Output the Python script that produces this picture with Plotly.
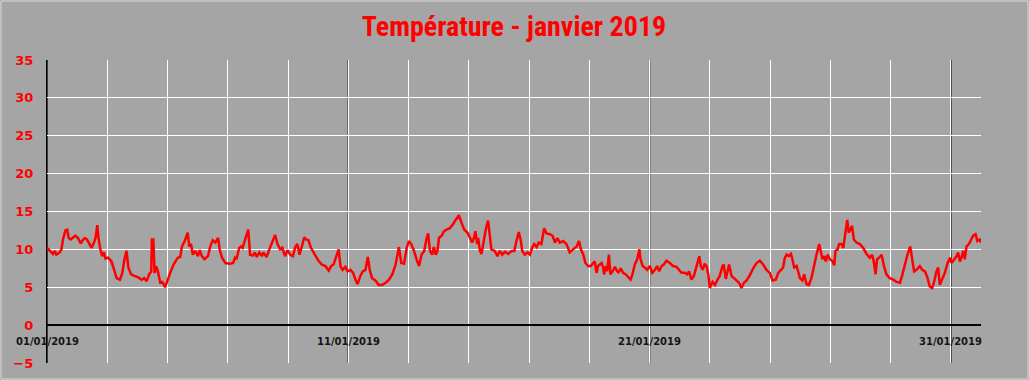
import pandas as pd
import plotly.graph_objects as go

# --- data (day offset from 01/01/2019 00:00, temperature °C) ---
day_offset = [
    0.00, 0.09, 0.20, 0.26, 0.31, 0.42, 0.48, 0.53, 0.61, 0.67, 0.72, 0.79, 0.87, 0.94,
    1.03, 1.12, 1.20, 1.26, 1.33, 1.42, 1.48, 1.56, 1.61, 1.67, 1.70, 1.76, 1.83, 1.89,
    1.94, 2.03, 2.14, 2.23, 2.31, 2.42, 2.50, 2.57, 2.64, 2.70, 2.79, 2.90, 3.03, 3.14,
    3.23, 3.31, 3.39, 3.46, 3.48, 3.53, 3.57, 3.62, 3.68, 3.76, 3.83, 3.92, 4.00, 4.09,
    4.20, 4.34, 4.42, 4.48, 4.57, 4.67, 4.72, 4.78, 4.84, 4.92, 5.01, 5.07, 5.14, 5.23,
    5.34, 5.42, 5.50, 5.59, 5.68, 5.73, 5.81, 5.92,
    6.07, 6.18, 6.24, 6.29, 6.38, 6.44, 6.49, 6.57, 6.68, 6.74, 6.83, 6.90, 6.96, 7.05,
    7.13, 7.18, 7.29, 7.38, 7.46, 7.57, 7.65, 7.74, 7.81, 7.90, 7.98, 8.07, 8.16, 8.24,
    8.31, 8.38, 8.46, 8.54, 8.60, 8.68, 8.76, 8.90, 9.01, 9.12, 9.24, 9.35, 9.43, 9.51,
    9.60, 9.68, 9.74, 9.81, 9.90, 9.98, 10.07, 10.16, 10.24, 10.31, 10.40, 10.48, 10.57,
    10.65, 10.71, 10.79, 10.90, 11.01, 11.12, 11.24, 11.35, 11.46, 11.57, 11.68, 11.76,
    11.85, 11.94, 12.01, 12.09, 12.18, 12.29,
    12.35, 12.43, 12.52, 12.60, 12.65, 12.71, 12.78, 12.84, 12.90, 12.96, 13.01, 13.10,
    13.18, 13.26, 13.37, 13.45, 13.54, 13.61, 13.67, 13.76, 13.85, 13.96, 14.04, 14.11,
    14.17, 14.22, 14.28, 14.31, 14.37, 14.42, 14.48, 14.56, 14.64, 14.70, 14.75, 14.86,
    14.95, 15.03, 15.11, 15.20, 15.31, 15.42, 15.51, 15.58, 15.66, 15.73, 15.77, 15.86,
    15.95, 16.03, 16.10, 16.17, 16.25, 16.32, 16.41, 16.50, 16.58, 16.69, 16.78, 16.86,
    16.94, 17.02, 17.13, 17.24, 17.35, 17.46, 17.58, 17.66, 17.72, 17.80, 17.87, 17.96,
    18.05, 18.13, 18.18, 18.24, 18.29,
    18.35, 18.41, 18.46, 18.49, 18.55, 18.59, 18.65, 18.70, 18.77, 18.85, 18.90, 18.96,
    19.04, 19.12, 19.21, 19.29, 19.37, 19.43, 19.51, 19.59, 19.66, 19.70, 19.77, 19.84,
    19.92, 20.01, 20.09, 20.18, 20.25, 20.32, 20.40, 20.47, 20.56, 20.67, 20.78, 20.89,
    20.98, 21.06, 21.17, 21.25, 21.31, 21.39, 21.47, 21.56, 21.65, 21.70, 21.76, 21.83,
    21.89, 21.95, 22.00, 22.09, 22.17, 22.24, 22.33, 22.42, 22.46, 22.53, 22.59, 22.64,
    22.72, 22.80, 22.89, 22.97, 23.05, 23.13, 23.22, 23.33, 23.44, 23.55, 23.66, 23.77,
    23.88, 23.99, 24.08, 24.19, 24.27, 24.35, 24.43,
    24.49, 24.55, 24.62, 24.69, 24.73, 24.80, 24.88, 24.93, 24.99, 25.07, 25.13, 25.21,
    25.29, 25.37, 25.46, 25.54, 25.63, 25.68, 25.74, 25.80, 25.85, 25.91, 25.98, 26.06,
    26.13, 26.17, 26.24, 26.29, 26.37, 26.43, 26.48, 26.56, 26.61, 26.67, 26.72, 26.78,
    26.87, 26.98, 27.09, 27.20, 27.31, 27.39, 27.45, 27.50, 27.55, 27.62, 27.70, 27.78,
    27.86, 27.97, 28.09, 28.20, 28.31, 28.38, 28.47, 28.56, 28.65, 28.72, 28.78, 28.86,
    28.97, 29.05, 29.14, 29.22, 29.30, 29.38, 29.45, 29.52, 29.58, 29.63, 29.71, 29.80,
    29.89, 29.97, 30.02, 30.11, 30.19, 30.24, 30.30, 30.35, 30.41, 30.46, 30.52, 30.60,
    30.66, 30.74, 30.82, 30.88, 30.96, 31.00,
]
temperature = [
    10.2, 9.8, 9.4, 9.8, 9.3, 9.6, 10.0, 11.3, 12.5, 12.6, 11.5, 11.3, 11.6, 11.8,
    11.5, 10.8, 11.3, 11.5, 11.3, 10.7, 10.2, 10.9, 11.5, 13.2, 11.8, 10.2, 9.1, 9.6,
    8.8, 8.9, 8.4, 7.3, 6.2, 6.0, 6.9, 8.7, 9.8, 7.6, 6.7, 6.5, 6.3, 6.0,
    6.2, 5.8, 6.7, 7.1, 11.3, 11.3, 6.9, 7.8, 7.1, 5.6, 5.7, 5.0, 6.0, 6.9,
    8.0, 8.9, 9.0, 10.4, 11.1, 12.2, 10.4, 10.7, 9.3, 9.8, 9.1, 9.9, 9.1, 8.7,
    9.1, 10.4, 11.2, 10.9, 11.5, 10.0, 8.9, 8.2,
    8.1, 8.2, 8.9, 8.7, 10.2, 10.4, 10.2, 11.2, 12.6, 9.3, 9.2, 9.6, 9.0, 9.6,
    9.1, 9.6, 9.0, 10.0, 10.9, 11.9, 10.7, 10.0, 10.2, 9.1, 9.9, 9.3, 9.1, 10.3,
    10.7, 9.3, 10.4, 11.6, 11.3, 11.2, 10.2, 9.3, 8.5, 8.0, 7.8, 7.2, 7.8, 8.0,
    9.0, 10.0, 7.8, 7.3, 7.7, 7.1, 7.3, 6.9, 6.0, 5.4, 6.5, 7.1, 7.3,
    9.0, 7.3, 6.2, 5.9, 5.3, 5.3, 5.6, 6.0, 6.7, 8.0, 10.3, 8.2,
    8.1, 10.2, 11.1, 10.7, 9.8, 8.4,
    7.8, 9.3, 9.8, 11.5, 12.1, 9.8, 9.3, 10.3, 9.3, 9.8, 11.5, 11.8,
    12.4, 12.6, 12.8, 13.2, 13.8, 14.1, 14.5, 13.5, 12.6, 12.2, 11.5, 10.9,
    11.5, 12.4, 10.7, 11.5, 9.8, 9.4, 10.7, 12.6, 13.8, 11.5, 10.0, 9.8,
    9.1, 9.8, 9.3, 9.7, 9.4, 9.8, 9.8, 11.1, 12.3, 11.1, 9.8, 9.3,
    9.6, 9.3, 10.2, 10.7, 10.3, 10.9, 10.7, 12.8, 12.1, 12.0, 11.8, 10.9,
    11.5, 10.9, 11.1, 10.7, 9.6, 10.0, 10.4, 11.1, 10.0, 9.3, 8.2, 7.8,
    7.8, 8.2, 8.4, 6.9, 7.8,
    8.0, 8.2, 7.6, 6.7, 7.8, 7.1, 9.3, 6.7, 7.1, 7.7, 7.3, 6.9,
    7.5, 6.9, 6.7, 6.3, 6.0, 6.7, 8.0, 8.7, 10.0, 8.7, 7.8, 7.6,
    7.3, 7.8, 6.9, 7.3, 7.8, 7.1, 7.8, 8.0, 8.5, 8.2, 7.8, 7.7,
    7.3, 6.9, 6.9, 6.7, 7.1, 6.0, 6.5, 7.8, 9.1, 7.8, 7.3, 8.1,
    7.8, 6.7, 4.9, 5.7, 5.3, 5.9, 6.5, 7.8, 8.0, 6.1, 7.3, 8.0,
    6.5, 6.2, 5.8, 5.6, 4.9, 5.6, 5.9, 6.6, 7.5, 8.2, 8.5, 8.0,
    7.3, 6.9, 5.9, 6.0, 6.9, 7.2, 7.6,
    8.9, 9.3, 9.1, 9.4, 8.9, 7.6, 7.8, 7.1, 6.2, 5.9, 6.7, 5.4,
    5.3, 6.2, 8.0, 9.3, 10.7, 9.8, 8.7, 9.1, 8.4, 9.3, 8.7, 8.5,
    7.9, 9.8, 10.0, 10.7, 10.7, 10.2, 11.8, 13.9, 12.2, 12.6, 13.1, 11.3,
    10.9, 10.7, 10.2, 9.4, 8.9, 9.3, 8.2, 6.7, 8.7, 8.9, 9.3, 7.8,
    6.7, 6.2, 6.0, 5.7, 5.6, 6.5, 8.0, 9.3, 10.4, 8.9, 7.1, 7.3,
    7.8, 7.3, 7.1, 6.3, 5.1, 4.9, 5.8, 7.1, 7.6, 5.3, 6.0, 6.9,
    8.2, 8.9, 8.2, 8.7, 9.1, 9.6, 8.4, 8.9, 9.8, 8.7, 10.4, 10.7,
    11.1, 11.8, 12.0, 11.1, 11.3, 10.9,
]

y_ticks = [-5, 0, 5, 10, 15, 20, 25, 30, 35]
label_days = [0, 10, 20, 30]
label_texts = ["01/01/2019", "11/01/2019", "21/01/2019", "31/01/2019"]

start = pd.Timestamp("2019-01-01")
times = start + pd.to_timedelta(day_offset, unit="D")
label_dates = [start + pd.Timedelta(days=d) for d in label_days]

BG = "#A5A5A5"
W, H = 1029, 380
ML, MR, MT, MB = 47, 48, 60, 17

fig = go.Figure()
fig.add_trace(go.Scatter(
    x=times, y=temperature, mode="lines",
    line=dict(color="#FF0000", width=2.5),
    hoverinfo="skip", showlegend=False,
))

# black vertical lines every 10 days
for d in label_dates:
    fig.add_shape(type="line", xref="x", yref="paper", x0=d, x1=d, y0=0, y1=1,
                  line=dict(color="black", width=1.3), layer="below")

# date labels just below the zero line
for d, t in zip(label_dates, label_texts):
    fig.add_annotation(x=d, y=-2.1, xref="x", yref="y", text=t, showarrow=False,
                       font=dict(family="DejaVu Sans", size=10, color="#151515", weight="bold"),
                       xanchor="center", yanchor="middle")

pw = W - ML - MR
ph = H - MT - MB
fig.add_shape(type="rect", xref="paper", yref="paper",
              x0=-(ML - 1) / pw, x1=1 + (MR - 1) / pw, y0=-(MB - 1) / ph, y1=1 + (MT - 1) / ph,
              line=dict(color="#D9D9D9", width=1), fillcolor="rgba(0,0,0,0)", layer="above")

fig.update_layout(
    width=W, height=H,
    margin=dict(l=ML, r=MR, t=MT, b=MB, autoexpand=False),
    paper_bgcolor=BG, plot_bgcolor=BG,
    title=dict(text="Température - janvier 2019", x=0.5, xref="paper", xanchor="center",
               y=1 - 26 / H, yref="container", yanchor="middle",
               font=dict(family="Liberation Sans Narrow, Roboto Condensed, Roboto", size=28,
                         color="#FF0000", weight="bold")),
    xaxis=dict(
        type="date", automargin=False,
        range=[start, start + pd.Timedelta(days=31)],
        tick0=start, dtick=2 * 86400000,
        showgrid=True, gridcolor="white", gridwidth=1,
        showticklabels=False, ticks="", zeroline=False, showline=False,
    ),
    yaxis=dict(
        range=[-5, 35], tickvals=y_ticks, automargin=False,
        showgrid=True, gridcolor="white", gridwidth=1,
        zeroline=True, zerolinecolor="black", zerolinewidth=2,
        showline=True, linecolor="black", linewidth=1.3,
        ticks="", ticklabelstandoff=10,
        tickfont=dict(family="DejaVu Sans", size=13, color="#FF0000", weight="bold"),
    ),
)

fig.write_html(
    "out.html",
    config={"displayModeBar": False},
    post_script="document.body.style.margin='0';document.body.style.overflow='hidden';",
)
